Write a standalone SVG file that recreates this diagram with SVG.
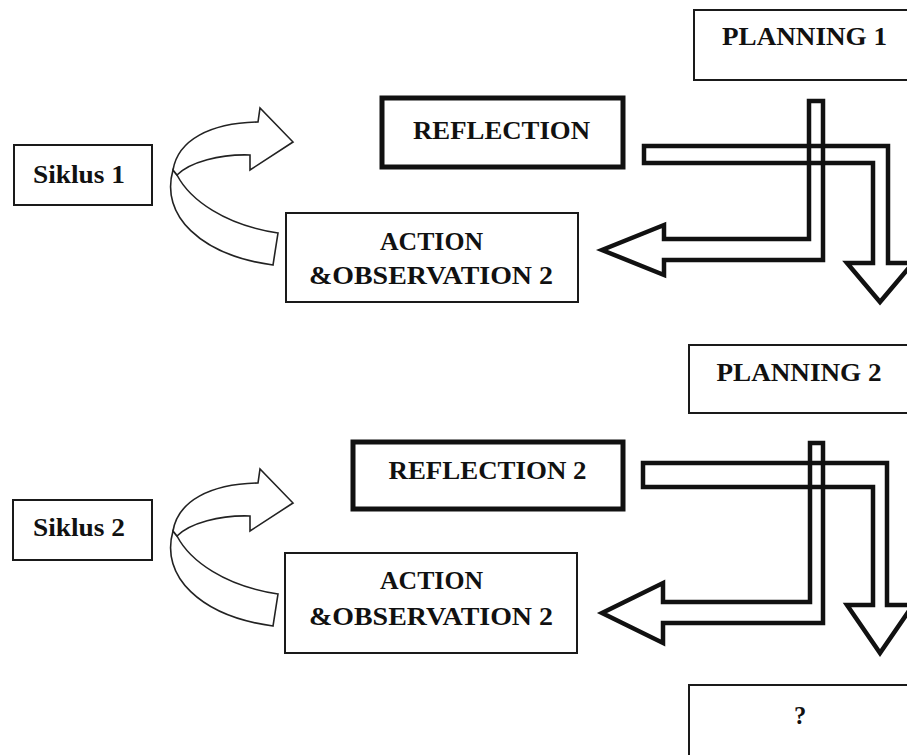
<svg xmlns="http://www.w3.org/2000/svg" width="907" height="755" viewBox="0 0 907 755">
<style>
.bg{fill:#fff}
.box{fill:#fff;stroke:#1a1a1a;stroke-width:2}
.thick{fill:#fff;stroke:#111;stroke-width:5}
.lbl{font-family:"Liberation Serif","Times New Roman",serif;font-weight:bold;font-size:24.5px;fill:#111;text-anchor:middle}
.bar{fill:none;stroke:#111;stroke-width:4.5;stroke-linejoin:miter}
.curl{fill:#fff;stroke:#222;stroke-width:1.6;stroke-linejoin:miter}
</style>
<defs>
<g id="curlArrow">
<path class="curl" d="M173,170 C160,215 200,255 273,265 L278,233 C225,225 190,200 177,175 Z"/>
<path class="curl" d="M173,170 C178,140 210,123 258,122 L260,108 L293,142 L250,170 L250,155 C220,154 190,162 177,175 Z"/>
</g>
</defs>
<rect class="bg" x="0" y="0" width="907" height="755"/>

<g id="connectors">
<use href="#curlArrow"/>
<use href="#curlArrow" transform="translate(0,361)"/>
<path class="bar" d="M644,146 L888,146 L888,263 L913,263 L880,302 L847,263 L873,263 L873,163 L644,163 Z"/>
<path class="bar" d="M809,101 L823,101 L823,260 L664,260 L664,275 L602,250 L664,225 L664,239 L809,239 Z"/>
<path class="bar" d="M643,463 L887,463 L887,605 L913,605 L880,653 L847,605 L873,605 L873,487 L643,487 Z"/>
<path class="bar" d="M810,443 L823,443 L823,623 L663,623 L663,643 L602,613 L663,583 L663,602 L810,602 Z"/>
</g>

<g id="planning1">
<rect class="box" x="694" y="10" width="230" height="70"/>
<text class="lbl" x="804.5" y="45" textLength="165" lengthAdjust="spacingAndGlyphs">PLANNING 1</text>
</g>
<g id="reflection1">
<rect class="thick" x="382" y="98" width="241" height="69"/>
<text class="lbl" x="501.5" y="139" textLength="177" lengthAdjust="spacingAndGlyphs">REFLECTION</text>
</g>
<g id="siklus1">
<rect class="box" x="14" y="145" width="138" height="60"/>
<text class="lbl" x="79" y="183" textLength="92" lengthAdjust="spacingAndGlyphs">Siklus 1</text>
</g>
<g id="action1">
<rect class="box" x="286" y="213" width="292" height="89"/>
<text class="lbl" x="431.5" y="250" textLength="103" lengthAdjust="spacingAndGlyphs">ACTION</text>
<text class="lbl" x="431" y="284" textLength="244" lengthAdjust="spacingAndGlyphs">&amp;OBSERVATION 2</text>
</g>
<g id="planning2">
<rect class="box" x="689" y="345" width="235" height="68"/>
<text class="lbl" x="799" y="381" textLength="165" lengthAdjust="spacingAndGlyphs">PLANNING 2</text>
</g>
<g id="reflection2">
<rect class="thick" x="353" y="442" width="270" height="67"/>
<text class="lbl" x="487.5" y="479" textLength="198" lengthAdjust="spacingAndGlyphs">REFLECTION 2</text>
</g>
<g id="siklus2">
<rect class="box" x="13" y="500" width="139" height="60"/>
<text class="lbl" x="79" y="536" textLength="92" lengthAdjust="spacingAndGlyphs">Siklus 2</text>
</g>
<g id="action2">
<rect class="box" x="285" y="553" width="292" height="100"/>
<text class="lbl" x="431.5" y="589" textLength="103" lengthAdjust="spacingAndGlyphs">ACTION</text>
<text class="lbl" x="431" y="625" textLength="244" lengthAdjust="spacingAndGlyphs">&amp;OBSERVATION 2</text>
</g>
<g id="question">
<rect class="box" x="689" y="685" width="235" height="90"/>
<text class="lbl" x="800" y="724">?</text>
</g>
</svg>
